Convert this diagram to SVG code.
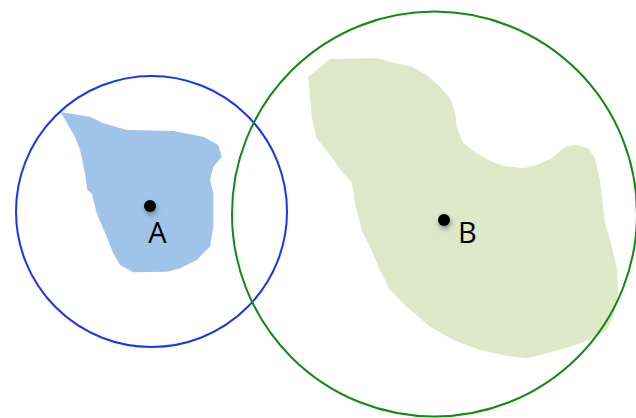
<svg xmlns="http://www.w3.org/2000/svg" width="636" height="418" viewBox="0 0 636 418">
<style>
.lbl{font-family:"Open Sans","Liberation Sans",sans-serif;font-size:29px;fill:#000}
.dot{fill:#000}
.ring{fill:none;stroke-width:2}
</style>
<defs>
<filter id="sh" x="-100%" y="-100%" width="300%" height="300%">
<feGaussianBlur stdDeviation="2.5"/>
</filter>
</defs>
<rect width="636" height="418" fill="#fff"/>
<g id="regionA">
<path fill="#a0c3ea" d="M61,112.3 L90,116.7 L103.3,123.3 L126.7,130 L173.3,131 L203.3,136.7 L218.3,145 L221.7,156.7 L220,159.3 L213.3,166.7 L210,180 L213.3,193.3 L213.3,226.7 L210,246.7 L203.3,253.3 L196.7,260 L180,268.3 L166.7,271.7 L133.3,272.3 L120,265 L113.3,253.3 L106.7,236.7 L96.7,213.3 L91.7,193.3 L87.3,190 L85,173.3 L80,150 L75,136.7 L63.3,116.7 Z"/>
</g>
<g id="regionB">
<path fill="#dfe7c9" d="M330,59 L376.7,58.3 L390,61.7 L411.7,66.7 L426.7,75 L440,86.7 L450,98.3 L455,111.7 L456.7,126.7 L463.3,143.3 L476.7,153.3 L488.3,160 L503.3,166 L523.3,168.3 L536.7,165 L551.7,158.3 L565,146.7 L576.7,145 L588.3,148.3 L595,158.3 L600,180 L605,223.3 L608.3,233.3 L616.7,266.7 L618.3,293.3 L613.3,316.7 L606.7,330 L593.3,338.3 L570,346.7 L546.7,353.3 L526.7,358.3 L506.7,356 L480,350 L453.3,340 L430,326.7 L406.7,306.7 L390,290 L380,270 L370,246.7 L361.7,230 L355,203.3 L351.7,181.7 L343.3,173.3 L330,155 L316.7,138.3 L311.7,116.7 L308.3,76.7 L316.7,70 Z"/>
</g>
<g id="circleA">
<circle class="ring" cx="151.5" cy="211.5" r="135.5" stroke="#1a33f5"/>
</g>
<g id="circleB">
<circle class="ring" cx="434.5" cy="214" r="202.5" stroke="#148a14"/>
</g>
<g id="pointA">
<ellipse cx="151" cy="209" rx="6" ry="6" fill="#555" opacity="0.6" filter="url(#sh)"/>
<circle class="dot" cx="150" cy="206" r="6"/>
<text class="lbl" x="157.5" y="243" text-anchor="middle">A</text>
</g>
<g id="pointB">
<ellipse cx="445" cy="223" rx="6" ry="6" fill="#555" opacity="0.6" filter="url(#sh)"/>
<circle class="dot" cx="444" cy="220" r="6"/>
<text class="lbl" x="458" y="243">B</text>
</g>
</svg>
